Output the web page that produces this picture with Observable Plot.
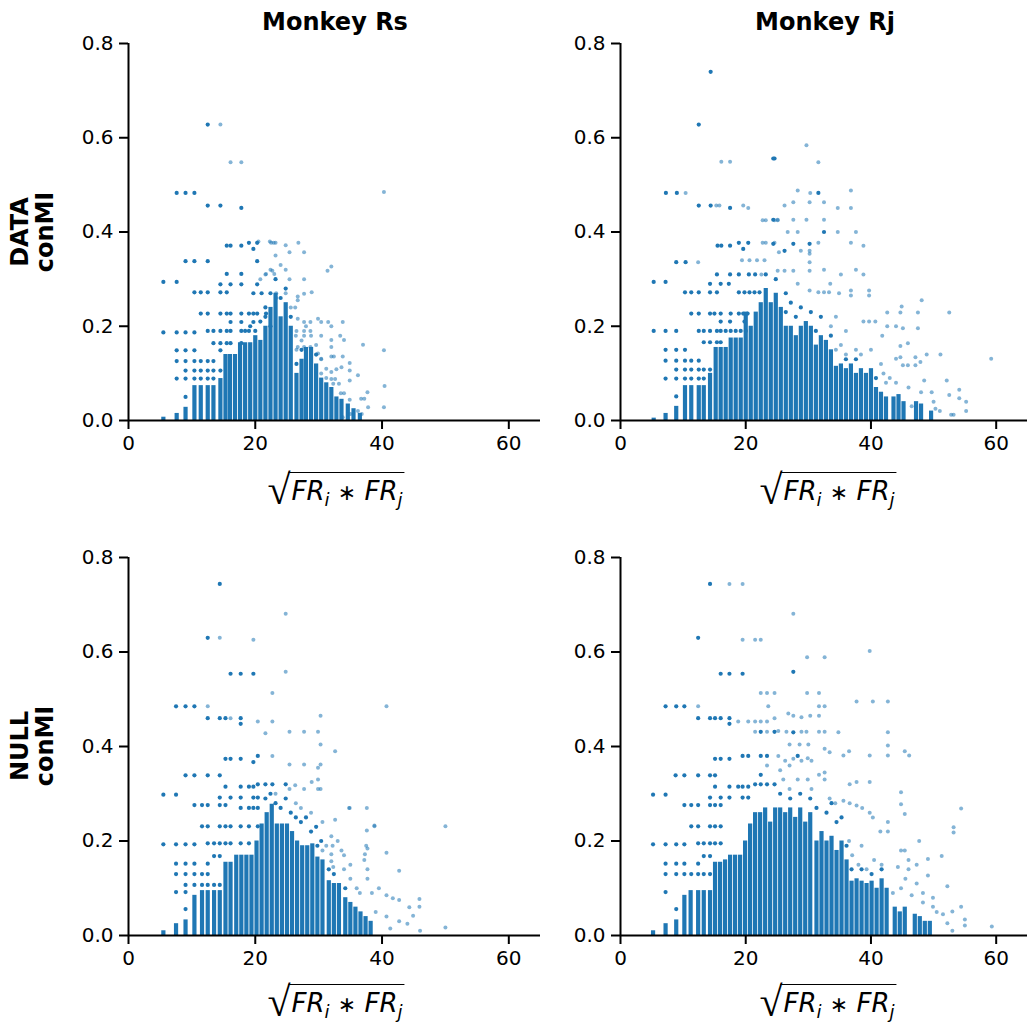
<!DOCTYPE html>
<html>
<head>
<meta charset="utf-8">
<script src="https://cdn.jsdelivr.net/npm/d3@7"></script>
<script src="https://cdn.jsdelivr.net/npm/@observablehq/plot@0.6"></script>
<style>
  body { margin: 0; background: white; }
  #root { position: relative; width: 1027px; height: 1030px; overflow: hidden; background: white; font-family: "DejaVu Sans", sans-serif; color: black; }
  .panel { position: absolute; }
  .title { position: absolute; font-weight: bold; font-size: 24px; transform: translate(-50%, -50%); white-space: nowrap; }
  .rowlab { position: absolute; font-weight: bold; font-size: 24px; line-height: 25px; text-align: center; width: 200px; transform: translate(-50%, -50%) rotate(-90deg); }
  .xl { position: absolute; transform: translateX(-50%); display: flex; align-items: flex-start; white-space: nowrap; }
  .xl .rad { font-size: 42px; line-height: 42px; margin-top: -3px; font-family: "DejaVu Sans"; font-weight: 200; }
  .xl .rc { border-top: 1.5px solid black; font-size: 26px; font-style: italic; line-height: 30px; padding: 3px 2px 0 3px; margin-left: -2px; }
  .xl sub { font-size: 18px; vertical-align: -6px; }
  .xl .ast { font-style: normal; font-size: 22px; }
</style>
</head>
<body>
<div id="root"></div>
<script>
// ---------------- DATA ----------------
const columnTitles = ["Monkey Rs", "Monkey Rj"];
const rowTitles = [["DATA", "conMI"], ["NULL", "conMI"]];
const xTicks = [0, 20, 40, 60];
const yTicks = [0, 0.2, 0.4, 0.6, 0.8];

// Dense stacks of overlapping points: [x, top of stack]
const rsDataColumns = [[5.5,0.007],[7.6,0.015],[9.0,0.028],[10.4,0.074],[11.4,0.074],[12.5,0.074],[13.4,0.074],[14.5,0.089],[15.3,0.14],[16.0,0.14],[16.8,0.14],[17.6,0.165],[18.4,0.165],[19.2,0.165],[20.0,0.18],[20.8,0.17],[21.6,0.2],[22.4,0.24],[23.2,0.27],[24.0,0.22],[24.8,0.25],[25.6,0.2],[26.5,0.1],[27.3,0.13],[28.0,0.155],[28.8,0.155],[29.6,0.12],[30.4,0.09],[31.2,0.08],[32.0,0.07],[32.8,0.05],[33.6,0.045],[34.6,0.035],[35.5,0.025],[36.5,0.015]];
const rsDataSolid = [[12.5,0.628],[7.6,0.483],[9.0,0.483],[10.4,0.483],[12.5,0.456],[14.5,0.456],[17.8,0.451],[15.5,0.371],[16.1,0.371],[17.8,0.371],[19.0,0.377],[20.3,0.377],[19.7,0.364],[9.0,0.338],[10.4,0.338],[12.5,0.338],[20.3,0.338],[15.5,0.311],[17.8,0.311],[5.5,0.294],[7.6,0.294],[14.5,0.289],[16.1,0.289],[17.8,0.289],[20.3,0.289],[10.4,0.272],[11.4,0.272],[12.5,0.272],[14.5,0.272],[15.5,0.272],[19.7,0.27],[21.0,0.27],[11.4,0.227],[12.5,0.227],[14.5,0.227],[15.5,0.227],[16.1,0.227],[17.8,0.227],[19.0,0.227],[19.7,0.227],[20.3,0.227],[21.7,0.227],[16.1,0.209],[17.8,0.209],[19.7,0.209],[5.5,0.187],[7.6,0.187],[9.0,0.187],[10.4,0.187],[12.5,0.19],[13.4,0.19],[14.5,0.19],[15.5,0.19],[16.1,0.19],[17.8,0.19],[19.0,0.19],[20.0,0.19],[13.4,0.164],[14.5,0.164],[15.5,0.164],[16.1,0.164],[17.8,0.164],[7.6,0.149],[9.0,0.149],[10.4,0.149],[14.5,0.149],[7.6,0.126],[9.0,0.126],[10.4,0.126],[11.4,0.126],[12.5,0.126],[13.4,0.126],[9.0,0.106],[10.4,0.106],[11.4,0.106],[12.5,0.106],[13.4,0.106],[14.5,0.106],[7.6,0.089],[9.0,0.089],[10.4,0.089],[11.4,0.089],[12.5,0.089],[13.4,0.089],[9.0,0.05],[22.4,0.27],[23.2,0.3],[24.8,0.28],[21.6,0.24],[22.4,0.2],[24.0,0.26],[18.4,0.19],[19.2,0.2],[20.8,0.21],[26.5,0.12],[27.3,0.15],[29.6,0.14],[25.6,0.22],[21.6,0.22]];
const rsDataFaint = [[14.5,0.628],[16.1,0.548],[17.8,0.548],[40.3,0.485],[22.9,0.377],[23.2,0.377],[22.5,0.377],[24.8,0.372],[26.8,0.377],[25.4,0.357],[27.7,0.357],[21.7,0.311],[23.0,0.311],[22.7,0.318],[24.8,0.32],[25.4,0.3],[27.7,0.3],[31.4,0.318],[32.0,0.327],[23.3,0.27],[23.3,0.26],[24.8,0.27],[26.7,0.263],[27.7,0.269],[28.9,0.272],[26.7,0.255],[26.3,0.24],[26.7,0.216],[27.7,0.209],[28.7,0.209],[29.9,0.216],[30.4,0.209],[31.5,0.209],[32.0,0.2],[33.8,0.209],[26.4,0.18],[27.7,0.19],[27.7,0.18],[28.7,0.19],[30.4,0.18],[32.0,0.171],[33.4,0.18],[34.0,0.171],[37.0,0.161],[40.3,0.149],[26.7,0.156],[27.7,0.156],[28.7,0.156],[29.9,0.142],[30.4,0.131],[32.0,0.156],[32.0,0.136],[32.4,0.136],[33.8,0.136],[34.9,0.122],[32.0,0.103],[32.8,0.109],[33.6,0.113],[34.9,0.106],[36.2,0.096],[40.4,0.073],[32.0,0.088],[32.6,0.088],[32.3,0.078],[33.2,0.078],[34.9,0.085],[33.5,0.058],[34.0,0.058],[34.9,0.044],[36.7,0.046],[37.2,0.046],[37.7,0.06],[37.8,0.028],[40.3,0.028],[36.2,0.02],[36.8,0.014],[35.0,0.014],[33.8,0.007],[22.4,0.32],[24.0,0.33],[23.2,0.35],[20.8,0.3],[21.6,0.31],[22.3,0.38],[20.5,0.38],[26.5,0.15],[26.5,0.19],[27.3,0.17],[28.0,0.2],[28.8,0.18],[29.6,0.16],[30.4,0.13],[31.2,0.11],[25.6,0.24],[30.4,0.1],[31.2,0.09]];

const rjDataColumns = [[5.3,0.005],[7.2,0.015],[8.9,0.03],[10.3,0.074],[11.3,0.074],[12.5,0.074],[13.3,0.074],[14.3,0.1],[15.2,0.155],[16.0,0.155],[16.8,0.155],[17.6,0.175],[18.4,0.175],[19.2,0.175],[20.0,0.23],[20.8,0.2],[21.6,0.23],[22.4,0.25],[23.2,0.28],[24.0,0.25],[24.8,0.27],[25.6,0.24],[26.4,0.2],[27.2,0.2],[28.0,0.18],[28.8,0.2],[29.6,0.21],[30.4,0.2],[31.2,0.16],[32.0,0.18],[32.8,0.17],[33.6,0.15],[34.4,0.115],[35.2,0.12],[36.0,0.11],[36.8,0.12],[37.6,0.1],[38.4,0.11],[39.2,0.1],[40.0,0.11],[40.8,0.07],[41.6,0.06],[42.4,0.05],[43.6,0.05],[44.4,0.055],[45.2,0.04],[47.2,0.04],[48.0,0.035],[49.6,0.02]];
const rjDataSolid = [[14.4,0.74],[12.5,0.628],[24.6,0.556],[24.4,0.556],[7.25,0.483],[9.0,0.483],[31.6,0.483],[12.5,0.456],[14.4,0.456],[17.5,0.451],[15.5,0.371],[16.1,0.371],[17.5,0.371],[18.9,0.377],[20.4,0.377],[19.6,0.364],[8.9,0.336],[10.4,0.336],[15.4,0.31],[17.5,0.31],[18.9,0.31],[20.5,0.31],[21.5,0.31],[5.3,0.294],[7.2,0.294],[14.3,0.29],[16.0,0.29],[17.3,0.29],[10.3,0.272],[11.3,0.272],[12.5,0.272],[14.3,0.272],[15.4,0.272],[18.9,0.272],[19.8,0.272],[20.6,0.272],[21.4,0.272],[22.2,0.272],[11.3,0.227],[12.5,0.227],[14.3,0.227],[15.0,0.227],[16.0,0.227],[17.6,0.227],[18.9,0.227],[19.6,0.227],[20.3,0.227],[16.0,0.21],[17.5,0.21],[19.8,0.21],[5.3,0.19],[7.2,0.19],[8.9,0.19],[12.5,0.19],[13.3,0.19],[14.3,0.19],[15.4,0.19],[16.0,0.19],[16.8,0.19],[17.6,0.19],[18.4,0.19],[19.2,0.19],[20.0,0.19],[13.3,0.166],[14.3,0.166],[15.4,0.166],[16.0,0.166],[7.2,0.15],[8.9,0.15],[10.3,0.15],[7.2,0.127],[8.9,0.127],[10.3,0.127],[11.3,0.127],[12.5,0.127],[8.9,0.108],[10.3,0.108],[11.3,0.108],[12.5,0.108],[13.3,0.108],[14.3,0.108],[7.2,0.089],[8.9,0.089],[10.3,0.089],[11.3,0.089],[12.5,0.089],[13.3,0.089],[8.9,0.051],[32.5,0.4],[24.4,0.375],[26.2,0.36],[27.6,0.375],[30.2,0.375],[24.4,0.426],[23.2,0.31],[24.8,0.3],[26.4,0.27],[27.2,0.25],[28.8,0.24],[30.4,0.23],[32.0,0.22],[26.4,0.23],[28.0,0.22],[31.2,0.19],[33.6,0.18],[36.0,0.13],[37.6,0.13],[40.8,0.09]];
const rjDataFaint = [[16.1,0.549],[17.5,0.549],[10.4,0.483],[15.3,0.456],[15.8,0.456],[19.6,0.456],[20.4,0.451],[22.7,0.425],[23.2,0.425],[24.6,0.425],[25.1,0.425],[22.7,0.377],[23.2,0.377],[24.6,0.377],[25.3,0.357],[12.4,0.336],[19.4,0.34],[20.6,0.34],[21.8,0.34],[23.0,0.34],[22.5,0.31],[29.7,0.584],[31.6,0.548],[28.3,0.488],[30.3,0.483],[36.8,0.488],[26.2,0.456],[27.6,0.463],[30.2,0.463],[32.5,0.463],[34.7,0.451],[36.8,0.451],[25.1,0.426],[27.6,0.426],[29.7,0.426],[32.5,0.426],[26.7,0.4],[28.3,0.4],[34.7,0.4],[37.6,0.4],[28.8,0.36],[30.2,0.36],[31.6,0.377],[36.8,0.377],[38.8,0.371],[30.2,0.354],[30.2,0.336],[25.1,0.318],[26.2,0.318],[27.6,0.318],[30.2,0.318],[32.5,0.32],[35.2,0.31],[37.6,0.32],[38.8,0.31],[28.3,0.29],[33.5,0.29],[30.2,0.276],[31.6,0.272],[32.5,0.272],[33.3,0.272],[34.9,0.27],[36.8,0.276],[36.8,0.265],[39.7,0.276],[39.7,0.265],[44.9,0.242],[48.1,0.255],[42.6,0.229],[44.7,0.229],[47.5,0.229],[52.5,0.229],[38.8,0.21],[39.7,0.21],[40.7,0.21],[42.6,0.2],[44.0,0.2],[45.1,0.196],[47.5,0.196],[41.8,0.18],[45.9,0.164],[44.7,0.158],[48.9,0.14],[51.1,0.14],[59.2,0.131],[44.0,0.131],[44.7,0.134],[47.1,0.134],[47.9,0.124],[45.1,0.117],[45.9,0.117],[47.1,0.117],[52.1,0.085],[52.5,0.054],[54.1,0.065],[54.1,0.047],[55.2,0.04],[55.2,0.02],[49.7,0.06],[50.0,0.04],[50.3,0.025],[52.8,0.012],[53.2,0.012],[43.0,0.09],[44.0,0.08],[46.0,0.07],[48.0,0.06],[42.0,0.1],[46.5,0.03],[51.0,0.02],[48.5,0.085],[34.4,0.15],[35.2,0.16],[36.0,0.14],[37.6,0.15],[38.4,0.14],[40.0,0.15],[33.6,0.2],[34.4,0.22],[36.0,0.19],[41.6,0.12],[42.4,0.08]];

const rsNullColumns = [[5.5,0.01],[7.5,0.025],[9.0,0.033],[10.4,0.085],[11.6,0.095],[12.5,0.095],[13.5,0.095],[14.4,0.095],[15.3,0.155],[16.1,0.155],[17.0,0.17],[17.8,0.17],[18.6,0.17],[19.4,0.17],[20.2,0.2],[21.0,0.236],[21.8,0.26],[22.6,0.278],[23.4,0.236],[24.2,0.236],[25.0,0.236],[25.8,0.22],[26.6,0.2],[27.4,0.19],[28.2,0.19],[29.0,0.194],[29.8,0.166],[30.6,0.16],[31.6,0.116],[32.4,0.11],[33.2,0.11],[34.2,0.08],[35.0,0.07],[35.8,0.06],[36.6,0.05],[37.4,0.04],[38.2,0.03]];
const rsNullSolid = [[14.4,0.744],[12.5,0.63],[16.1,0.554],[17.7,0.554],[19.7,0.554],[7.5,0.485],[9.0,0.485],[10.4,0.485],[12.5,0.46],[14.4,0.46],[15.3,0.46],[17.7,0.46],[17.7,0.448],[15.3,0.374],[16.1,0.374],[17.7,0.374],[19.7,0.367],[20.4,0.38],[9.0,0.339],[10.4,0.339],[12.5,0.339],[14.4,0.339],[15.3,0.315],[17.7,0.315],[19.0,0.315],[19.7,0.315],[20.4,0.32],[21.6,0.32],[22.7,0.32],[24.8,0.32],[5.5,0.298],[7.5,0.298],[14.4,0.292],[16.1,0.292],[17.7,0.292],[19.7,0.292],[20.4,0.292],[10.4,0.276],[11.6,0.276],[12.5,0.276],[14.4,0.276],[15.3,0.276],[17.7,0.27],[19.0,0.27],[19.7,0.27],[20.4,0.27],[11.6,0.231],[12.5,0.231],[14.4,0.231],[15.3,0.231],[16.1,0.231],[17.7,0.231],[19.0,0.231],[20.4,0.231],[5.5,0.193],[7.5,0.193],[9.0,0.193],[10.4,0.193],[12.5,0.195],[13.5,0.195],[14.4,0.195],[15.3,0.195],[16.1,0.195],[17.7,0.195],[19.0,0.195],[13.5,0.168],[14.4,0.168],[7.5,0.152],[9.0,0.152],[10.4,0.152],[12.5,0.152],[7.5,0.13],[9.0,0.13],[10.4,0.13],[11.6,0.13],[12.5,0.13],[9.0,0.107],[10.4,0.107],[11.6,0.107],[12.5,0.107],[13.5,0.107],[14.4,0.107],[7.5,0.092],[9.0,0.092],[9.0,0.056],[21.6,0.29],[22.4,0.3],[23.2,0.28],[24.0,0.27],[24.8,0.29],[25.6,0.26],[26.4,0.25],[27.2,0.24],[28.0,0.25],[28.8,0.22],[29.6,0.23],[30.4,0.2],[31.6,0.14],[32.4,0.13],[34.2,0.1],[29.8,0.19]];
const rsNullFaint = [[24.8,0.681],[14.4,0.63],[19.7,0.626],[24.8,0.558],[22.7,0.513],[12.5,0.485],[16.1,0.46],[20.4,0.453],[22.7,0.453],[21.6,0.428],[25.4,0.431],[27.7,0.431],[29.9,0.431],[30.3,0.465],[30.3,0.404],[32.6,0.39],[22.7,0.38],[25.4,0.362],[27.7,0.362],[29.9,0.355],[30.3,0.362],[25.4,0.31],[26.3,0.318],[27.7,0.31],[28.9,0.325],[29.9,0.33],[29.9,0.31],[30.3,0.31],[34.8,0.27],[37.6,0.27],[32.6,0.245],[37.6,0.222],[38.8,0.233],[32.0,0.21],[32.0,0.172],[34.0,0.17],[32.0,0.157],[34.0,0.14],[37.3,0.172],[37.7,0.184],[37.7,0.14],[40.7,0.485],[50.0,0.231],[50.0,0.017],[45.9,0.077],[45.9,0.061],[42.7,0.137],[40.7,0.175],[38.8,0.231],[34.9,0.27],[37.5,0.19],[37.2,0.16],[37.7,0.12],[38.4,0.09],[40.7,0.085],[41.7,0.079],[42.7,0.075],[44.3,0.06],[44.9,0.042],[44.0,0.025],[42.7,0.03],[40.7,0.04],[46.0,0.01],[41.3,0.015],[33.0,0.2],[32.2,0.19],[33.6,0.18],[35.0,0.15],[32.3,0.145],[36.0,0.1],[35.0,0.12],[39.0,0.05],[39.5,0.1],[36.5,0.09],[26.4,0.28],[23.2,0.3],[27.2,0.27],[28.8,0.26],[30.6,0.24],[31.2,0.19],[30.6,0.18]];

const rjNullColumns = [[5.2,0.01],[7.2,0.025],[8.9,0.033],[10.2,0.085],[11.2,0.095],[12.4,0.095],[13.3,0.095],[14.3,0.095],[15.1,0.155],[15.9,0.155],[16.7,0.16],[17.5,0.17],[18.3,0.17],[19.1,0.17],[19.9,0.2],[20.7,0.236],[21.5,0.26],[22.3,0.26],[23.1,0.27],[23.9,0.24],[24.7,0.27],[25.5,0.27],[26.3,0.26],[27.1,0.27],[27.9,0.25],[28.7,0.27],[29.5,0.24],[30.3,0.26],[31.3,0.2],[32.1,0.22],[32.9,0.2],[33.7,0.21],[34.5,0.18],[35.3,0.2],[36.1,0.16],[36.9,0.115],[37.7,0.12],[38.5,0.115],[39.3,0.11],[40.1,0.115],[40.9,0.1],[41.7,0.12],[42.5,0.1],[43.8,0.06],[44.6,0.05],[45.4,0.06],[47.0,0.045],[47.8,0.04],[48.6,0.03],[49.4,0.03]];
const rjNullSolid = [[14.3,0.744],[12.4,0.63],[16.0,0.554],[17.4,0.554],[19.5,0.554],[27.6,0.558],[7.2,0.485],[8.9,0.485],[10.2,0.485],[12.4,0.46],[14.3,0.46],[15.1,0.46],[16.0,0.46],[17.4,0.46],[17.4,0.448],[15.1,0.374],[16.0,0.374],[17.4,0.374],[19.5,0.38],[20.4,0.38],[22.4,0.38],[23.4,0.38],[8.8,0.339],[10.2,0.339],[12.4,0.339],[14.3,0.339],[15.1,0.339],[15.1,0.315],[17.4,0.315],[18.8,0.315],[19.5,0.315],[20.4,0.315],[21.5,0.32],[22.4,0.32],[23.4,0.32],[24.6,0.32],[5.2,0.298],[7.2,0.298],[14.3,0.292],[16.0,0.292],[17.4,0.292],[19.5,0.292],[20.4,0.292],[10.2,0.276],[11.3,0.276],[12.4,0.276],[14.3,0.276],[15.1,0.276],[16.0,0.276],[11.3,0.231],[12.4,0.231],[14.3,0.231],[15.1,0.231],[16.0,0.231],[5.2,0.193],[7.2,0.193],[8.9,0.193],[10.2,0.193],[12.4,0.195],[13.3,0.195],[14.3,0.195],[15.1,0.195],[16.0,0.195],[13.3,0.168],[14.3,0.168],[7.2,0.152],[8.9,0.152],[10.2,0.152],[12.4,0.152],[7.2,0.13],[8.9,0.13],[10.2,0.13],[11.3,0.13],[12.4,0.13],[13.3,0.13],[14.3,0.13],[7.2,0.092],[8.9,0.056],[22.4,0.431],[24.6,0.431],[22.4,0.34],[27.6,0.43],[28.3,0.38],[25.5,0.3],[27.1,0.29],[28.7,0.3],[30.3,0.29],[31.3,0.27],[32.9,0.26],[34.5,0.24],[35.3,0.25],[33.7,0.28],[36.9,0.14],[38.5,0.14],[40.1,0.13],[41.7,0.14],[36.1,0.19]];
const rjNullFaint = [[17.4,0.744],[19.5,0.744],[27.6,0.681],[19.5,0.626],[21.5,0.626],[22.4,0.626],[29.8,0.589],[32.6,0.589],[39.8,0.602],[22.4,0.513],[23.4,0.513],[24.6,0.513],[29.8,0.513],[31.7,0.513],[12.4,0.485],[23.6,0.485],[31.7,0.485],[32.6,0.485],[37.7,0.495],[40.3,0.495],[42.7,0.495],[18.8,0.453],[20.4,0.453],[21.5,0.453],[22.4,0.453],[23.4,0.453],[24.6,0.46],[26.8,0.47],[27.6,0.465],[28.9,0.462],[30.3,0.465],[31.7,0.465],[21.5,0.431],[23.4,0.431],[25.2,0.433],[26.5,0.431],[28.9,0.431],[29.7,0.431],[31.7,0.431],[32.6,0.431],[34.8,0.43],[42.7,0.43],[27.0,0.404],[28.6,0.404],[30.0,0.404],[32.6,0.395],[33.4,0.388],[35.6,0.381],[36.5,0.39],[39.8,0.381],[42.7,0.402],[42.7,0.381],[45.4,0.39],[46.1,0.381],[25.2,0.38],[26.3,0.37],[27.6,0.374],[28.9,0.37],[29.9,0.375],[30.5,0.37],[23.4,0.36],[25.5,0.35],[27.0,0.36],[31.7,0.34],[32.6,0.345],[26.0,0.33],[27.0,0.31],[28.3,0.33],[29.9,0.33],[30.5,0.31],[32.6,0.33],[36.6,0.32],[37.7,0.325],[39.8,0.325],[33.4,0.29],[34.3,0.28],[35.6,0.285],[36.6,0.28],[37.7,0.275],[38.6,0.27],[39.8,0.26],[40.3,0.25],[41.5,0.22],[42.7,0.24],[42.7,0.22],[44.8,0.303],[44.8,0.278],[45.4,0.257],[54.4,0.269],[53.2,0.229],[53.2,0.218],[47.7,0.2],[49.1,0.162],[51.3,0.168],[49.1,0.127],[52.2,0.104],[54.4,0.061],[53.0,0.051],[55.0,0.034],[55.0,0.021],[59.3,0.019],[49.9,0.08],[49.9,0.061],[52.2,0.026],[53.0,0.01],[44.8,0.18],[45.4,0.18],[46.0,0.16],[47.3,0.15],[46.0,0.14],[44.3,0.145],[47.3,0.11],[44.8,0.1],[48.3,0.09],[45.5,0.12],[48.3,0.07],[50.5,0.05],[51.5,0.045],[46.5,0.085],[43.5,0.09],[37.0,0.17],[38.0,0.15],[39.3,0.14],[40.5,0.16],[41.7,0.15],[36.5,0.2],[38.5,0.19]];

// ---------------- DRAW ----------------
const root = document.getElementById("root");
const blue = "#1f77b4";

function panel(columns, solid, faint, geom) {
  return Plot.plot({
    width: geom.width,
    height: geom.height,
    marginLeft: geom.ml,
    marginRight: geom.mr,
    marginTop: geom.mt,
    marginBottom: geom.mb,
    x: {domain: [0, 65]},
    y: {domain: [0, 0.8]},
    style: {fontFamily: "DejaVu Sans", fontSize: "20px", color: "black", background: "white", overflow: "visible"},
    marks: [
      Plot.ruleX(columns, {x: d => d[0], y1: d => 0, y2: d => d[1], stroke: blue, strokeWidth: 4.2}),
      Plot.dot(faint, {x: d => d[0], y: d => d[1], r: 2.0, fill: blue, fillOpacity: 0.55}),
      Plot.dot(solid, {x: d => d[0], y: d => d[1], r: 2.1, fill: blue, fillOpacity: 1}),
      Plot.axisX({ticks: xTicks, tickSize: 9, tickPadding: 6, strokeWidth: 2, fontSize: 20, label: null}),
      Plot.axisY({ticks: yTicks, tickFormat: d => d.toFixed(1), tickSize: 9, tickPadding: 6, strokeWidth: 2, fontSize: 20, label: null}),
      Plot.ruleX([0], {stroke: "black", strokeWidth: 2}),
      Plot.ruleY([0], {stroke: "black", strokeWidth: 2})
    ]
  });
}

const geoms = [
  {left: 60, top: 30, width: 490, height: 440, ml: 68, mr: 10, mt: 13, mb: 50},
  {left: 552, top: 30, width: 475, height: 440, ml: 68, mr: 0, mt: 13, mb: 50},
  {left: 60, top: 545, width: 490, height: 440, ml: 68, mr: 10, mt: 12, mb: 50},
  {left: 552, top: 545, width: 475, height: 440, ml: 68, mr: 0, mt: 12, mb: 50}
];
const sets = [
  [rsDataColumns, rsDataSolid, rsDataFaint],
  [rjDataColumns, rjDataSolid, rjDataFaint],
  [rsNullColumns, rsNullSolid, rsNullFaint],
  [rjNullColumns, rjNullSolid, rjNullFaint]
];
sets.forEach((s, i) => {
  const g = geoms[i];
  const svg = panel(s[0], s[1], s[2], g);
  svg.classList.add("panel");
  svg.style.left = g.left + "px";
  svg.style.top = g.top + "px";
  root.appendChild(svg);
});

function addDiv(cls, html, x, y) {
  const d = document.createElement("div");
  d.className = cls;
  d.innerHTML = html;
  d.style.left = x + "px";
  d.style.top = y + "px";
  root.appendChild(d);
  return d;
}
addDiv("title", columnTitles[0], 335, 22);
addDiv("title", columnTitles[1], 825, 22);
addDiv("rowlab", rowTitles[0].join("<br>"), 33, 232);
addDiv("rowlab", rowTitles[1].join("<br>"), 33, 746);
const xlab = '<span class="rad">√</span><span class="rc">FR<sub>i</sub> <span class="ast">∗</span> FR<sub>j</sub></span>';
addDiv("xl", xlab, 336, 472);
addDiv("xl", xlab, 828, 472);
addDiv("xl", xlab, 336, 984);
addDiv("xl", xlab, 828, 984);
</script>
</body>
</html>
